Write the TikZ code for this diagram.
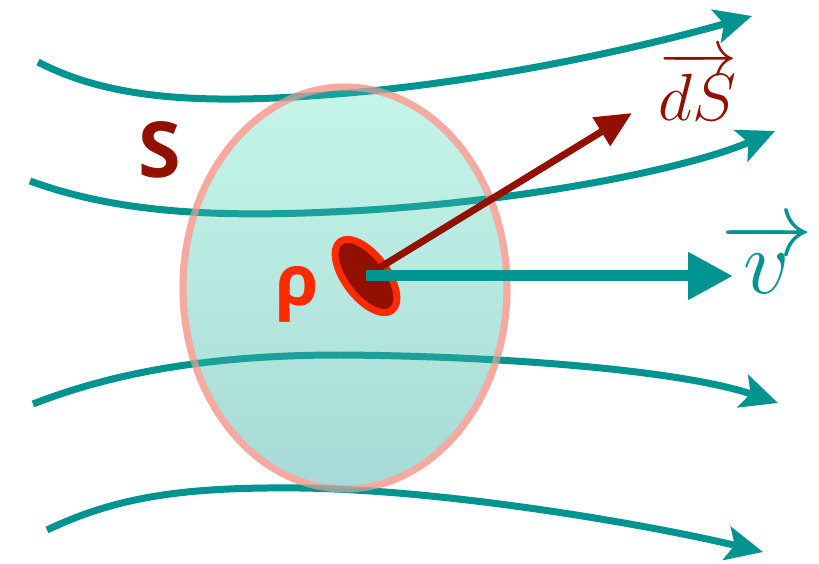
\RequirePackage{fix-cm}
\documentclass[tikz,border=0pt]{standalone}
\usepackage{fontspec}
\newfontfamily\labelfont{Open Sans}
\usetikzlibrary{arrows.meta,positioning}
\definecolor{flteal}{RGB}{0,148,144}
\definecolor{fldark}{RGB}{146,16,0}
\definecolor{flred}{RGB}{255,42,0}
\definecolor{flpink}{RGB}{248,168,158}
\definecolor{fltop}{RGB}{200,248,234}
\definecolor{flbot}{RGB}{164,216,214}
\begin{document}
\begin{tikzpicture}[x=0.02cm, y=-0.02cm,
  stream/.style={draw=flteal, line width=0.14cm, -{Stealth[length=0.74cm, width=0.68cm, inset=0.16cm]}},
  sans/.style={font=\labelfont\bfseries\fontsize{#1}{#1}\selectfont},
  mth/.style={font=\fontsize{#1}{#1}\selectfont}]
\useasboundingbox (0,0) rectangle (819,564);
% Volume
\shade[top color=fltop, bottom color=flbot, draw=flpink, line width=0.14cm] (345,288) ellipse [x radius=3.24cm, y radius=4.02cm];
% Streamlines
\draw[stream] (38,62) .. controls (120,105) and (230,105) .. (380,90) .. controls (520,75) and (650,45) .. (752,16);
\draw[stream] (30,181) .. controls (110,210) and (200,218) .. (330,212) .. controls (500,205) and (680,172) .. (775,131);
\draw[stream] (33,404) .. controls (120,370) and (220,355) .. (340,355) .. controls (500,356) and (680,370) .. (778,403);
\draw[stream] (47,530) .. controls (120,495) and (190,487) .. (300,488) .. controls (450,490) and (650,525) .. (763,552);
\path[fill=fltop!60!flbot, fill opacity=0.15, draw=flpink, draw opacity=0.6, line width=0.14cm] (345,288) ellipse [x radius=3.24cm, y radius=4.02cm];
% Element
\coordinate (rho) at (366,276);
\coordinate (vtip) at (733,276);
\coordinate (dstip) at (632,113);
\draw[shift={(rho)}, rotate=-53, draw=flred, fill=fldark, line width=0.14cm] (0,0) ellipse [x radius=0.86cm, y radius=0.42cm];
\draw[fldark, line width=0.14cm, -{Triangle[length=0.72cm, width=0.64cm]}] (rho) -- (dstip);
\draw[flteal, line width=0.22cm, -{Triangle[length=0.9cm, width=0.9cm]}] (rho) -- (vtip);
% Labels
\node[sans=44, text=fldark] (slabel) at (160,150) {S};
\node[sans=40, text=flred] (rholabel) at (297,294) {ρ};
\node[mth=38, text=fldark] (dslabel) at (698,86) {$\overrightarrow{dS}$};
\node[mth=52, text=flteal] (vlabel) at (767,258) {$\overrightarrow{v}$};
\end{tikzpicture}
\end{document}
